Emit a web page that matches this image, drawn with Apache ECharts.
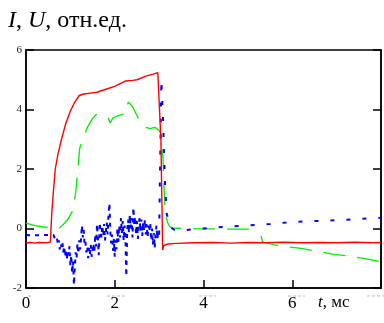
<!DOCTYPE html>
<html>
<head>
<meta charset="utf-8">
<script src="https://cdn.jsdelivr.net/npm/echarts@6/dist/echarts.min.js"></script>
<style>
  html, body { margin: 0; padding: 0; background: #fff; }
  #chart { width: 384px; height: 323px; }
</style>
</head>
<body>
<div id="chart"></div>
<script>
// axis ticks
var xTicks = [0, 2, 4, 6, 8]
var yTicks = [-2, 0, 2, 4, 6]

// current I, [t ms, value]
var currentI = [
  [0, -0.48], [0.1, -0.47], [0.2, -0.49], [0.3, -0.47], [0.4, -0.48], [0.5, -0.47], [0.55, -0.45],
  [0.58, 0.5], [0.62, 1.3], [0.66, 2.0], [0.72, 2.5], [0.8, 3.0], [0.9, 3.55], [1.0, 3.95],
  [1.1, 4.25], [1.2, 4.47], [1.3, 4.52], [1.45, 4.55], [1.6, 4.58], [1.8, 4.68], [2.0, 4.78],
  [2.1, 4.85], [2.25, 4.96], [2.4, 4.98], [2.5, 5.0], [2.7, 5.12], [2.85, 5.18], [2.97, 5.24],
  [3.01, 5.22], [3.04, 3.0], [3.08, -0.72], [3.1, -0.58], [3.2, -0.52], [3.4, -0.5],
  [3.8, -0.48], [4.2, -0.47], [4.6, -0.49], [5.0, -0.47], [5.4, -0.48], [5.8, -0.46],
  [6.2, -0.48], [6.6, -0.47], [7.0, -0.48], [7.4, -0.46], [7.8, -0.48], [8.0, -0.47]
]

// voltage U, [t ms, value]
var voltageU = [
  [0, 0.18], [0.2, 0.1], [0.4, 0.05], [0.5, 0.03], [0.6, 0.0], [0.73, -0.02], [0.85, 0.15],
  [0.95, 0.32], [1.05, 0.6], [1.12, 1.2], [1.17, 2.0], [1.21, 2.7], [1.3, 3.1], [1.4, 3.45],
  [1.5, 3.7], [1.58, 3.83], [1.7, 3.8], [1.85, 3.72], [1.9, 3.55], [1.95, 3.7], [2.05, 3.78],
  [2.2, 3.85], [2.28, 3.9], [2.3, 4.25], [2.4, 4.1], [2.5, 3.8], [2.6, 3.5], [2.7, 3.4],
  [2.8, 3.36], [2.9, 3.4], [3.0, 3.3], [3.05, 3.14], [3.09, 2.3], [3.1, 1.8], [3.12, 1.07],
  [3.14, 0.52], [3.19, 0.2], [3.24, 0.06], [3.3, 0.02], [3.5, 0.0], [4.0, -0.01], [4.5, -0.02],
  [5.1, -0.02], [5.2, null], [5.3, -0.25], [5.33, -0.45], [5.6, -0.55], [5.9, -0.62],
  [6.2, -0.67], [6.5, -0.75], [6.9, -0.86], [7.3, -0.93], [7.7, -1.03], [8.0, -1.12]
]

// probe signal, noisy part while the current flows, [t ms, value]
var probeNoise = [
  [0, -0.22], [0.2, -0.23], [0.4, -0.22], [0.62, -0.22], [0.64, -0.3], [0.66, -0.25], [0.68, -0.42],
  [0.70, -0.35], [0.72, -0.55], [0.74, -0.4], [0.76, -0.7], [0.78, -0.5], [0.80, -0.62],
  [0.82, -0.45], [0.84, -0.8], [0.86, -0.6], [0.88, -0.95], [0.90, -0.7], [0.92, -1.05],
  [0.94, -0.75], [0.96, -0.9], [0.98, -0.6], [1.00, -1.25], [1.02, -0.9], [1.04, -1.5],
  [1.06, -1.1], [1.08, -1.9], [1.10, -1.3], [1.12, -0.8], [1.14, -1.0], [1.16, -0.5],
  [1.18, -0.85], [1.20, -0.4], [1.22, -0.7], [1.24, -0.35], [1.26, 0.1], [1.28, -0.3],
  [1.30, -0.05], [1.32, -0.55], [1.34, -0.45], [1.36, -0.8], [1.38, -0.6], [1.40, -1.0],
  [1.42, -0.65], [1.44, -0.85], [1.46, -0.55], [1.48, -0.95], [1.50, -0.7], [1.52, -0.5],
  [1.54, -0.8], [1.56, -0.2], [1.58, -0.6], [1.60, 0.15], [1.62, -0.35], [1.64, -0.9],
  [1.66, 0.2], [1.68, -0.1], [1.70, -0.3], [1.72, 0.1], [1.74, -0.25], [1.76, 0.15],
  [1.78, -0.4], [1.80, -0.1], [1.82, 0.2], [1.84, -0.2], [1.86, 0.5], [1.88, 0.85],
  [1.90, -0.1], [1.92, -0.5], [1.94, -0.2], [1.96, -0.75], [1.98, -0.35], [2.00, -0.95],
  [2.02, -0.4], [2.04, -0.7], [2.06, 0.0], [2.08, -0.45], [2.10, 0.1], [2.12, -0.3],
  [2.14, 0.35], [2.16, -0.15], [2.18, 0.25], [2.20, -0.4], [2.22, 0.1], [2.24, -0.2],
  [2.26, -1.6], [2.28, -0.1], [2.30, 0.3], [2.32, -0.15], [2.34, 0.45], [2.36, 0.0],
  [2.38, 0.35], [2.40, -0.3], [2.42, 0.7], [2.44, 0.1], [2.46, 0.4], [2.48, -0.2],
  [2.50, 0.25], [2.52, -0.35], [2.54, 0.15], [2.56, 0.35], [2.58, -0.1], [2.60, 0.3],
  [2.62, -0.25], [2.64, 0.2], [2.66, -0.05], [2.68, 0.3], [2.70, -0.2], [2.72, 0.15],
  [2.74, -0.3], [2.76, 0.1], [2.78, -0.1], [2.80, 0.2], [2.82, -0.4], [2.84, 0.0],
  [2.86, -0.55], [2.88, -0.15], [2.90, -0.65], [2.92, -0.2], [2.94, 0.1], [2.96, -0.35],
  [2.98, -0.1], [3.00, -0.2]
]

// probe signal, spike and slow tail, [t ms, value]
var probeTail = [
  [3.00, -0.2], [3.05, 5.0], [3.09, 3.6], [3.13, 1.6], [3.17, 0.5], [3.25, 0.05],
  [3.35, -0.05], [3.6, -0.05], [4.0, 0.0], [4.5, 0.06], [5.0, 0.1], [5.5, 0.15], [6.0, 0.22],
  [6.5, 0.25], [7.0, 0.28], [7.5, 0.32], [8.0, 0.36]
]

var serif = 'Liberation Serif'
var chart = echarts.init(document.getElementById('chart'))

// light gray dash marks under the x axis
var grayMarks = [[28, 31], [107, 125], [199, 216], [288, 305], [367, 384]].map(function (r) {
  return {
    type: 'line',
    shape: { x1: r[0], y1: 296, x2: r[1], y2: 296 },
    style: { stroke: '#bbb', lineWidth: 1, lineDash: [3, 2] },
    silent: true
  }
})

chart.setOption({
  animation: false,
  title: {
    text: '{i|I}{n|, }{i|U}{n|, отн.ед.}',
    left: 3,
    top: 4,
    textStyle: {
      fontWeight: 'normal',
      rich: {
        i: { fontFamily: serif, fontSize: 24, fontStyle: 'italic', fontWeight: 'normal', color: '#000' },
        n: { fontFamily: serif, fontSize: 24, fontWeight: 'normal', color: '#000' }
      }
    }
  },
  grid: {
    left: 26, right: 1, top: 50, bottom: 35,
    show: true, borderColor: '#000', borderWidth: 1.5
  },
  xAxis: {
    type: 'value',
    min: xTicks[0],
    max: xTicks[xTicks.length - 1],
    interval: 2,
    axisLine: { onZero: false, lineStyle: { color: '#000', width: 1.5 } },
    axisTick: { inside: true, length: 8, lineStyle: { color: '#000', width: 1.5 } },
    axisLabel: {
      margin: 7,
      fontFamily: serif,
      fontSize: 17,
      color: '#000',
      formatter: function (v) { return v === 8 ? '' : String(v) }
    },
    splitLine: { show: false }
  },
  yAxis: [
    {
      type: 'value',
      min: yTicks[0],
      max: yTicks[yTicks.length - 1],
      interval: 2,
      axisLine: { show: true, onZero: false, lineStyle: { color: '#000', width: 1.5 } },
      axisTick: { show: true, inside: true, length: 8, lineStyle: { color: '#000', width: 1.5 } },
      axisLabel: { margin: 4, fontFamily: serif, fontSize: 11, color: '#222' },
      splitLine: { show: false }
    },
    {
      type: 'value',
      position: 'right',
      min: yTicks[0],
      max: yTicks[yTicks.length - 1],
      interval: 2,
      axisLine: { show: true, onZero: false, lineStyle: { color: '#000', width: 1.5 } },
      axisTick: { show: true, inside: true, length: 8, lineStyle: { color: '#000', width: 1.5 } },
      axisLabel: { show: false },
      splitLine: { show: false }
    }
  ],
  graphic: grayMarks.concat([
    {
      type: 'text',
      left: 318,
      top: 294,
      style: {
        text: '{i|t}{n|, мс}',
        rich: {
          i: { fontFamily: serif, fontSize: 17, fontStyle: 'italic', fill: '#000' },
          n: { fontFamily: serif, fontSize: 17, fill: '#000' }
        }
      }
    }
  ]),
  series: [
    {
      name: 'U',
      type: 'line',
      data: voltageU,
      showSymbol: false,
      connectNulls: false,
      lineStyle: { color: '#00ee00', width: 1.3, type: [22, 12] }
    },
    {
      name: 'probe',
      type: 'line',
      data: probeNoise,
      showSymbol: false,
      lineStyle: { color: '#0000ff', width: 2, type: [4, 5] }
    },
    {
      name: 'probe tail',
      type: 'line',
      data: probeTail,
      showSymbol: false,
      lineStyle: { color: '#0000ff', width: 2, type: [4, 12] }
    },
    {
      name: 'I',
      type: 'line',
      data: currentI,
      showSymbol: false,
      lineStyle: { color: '#ff0000', width: 1.4 }
    }
  ]
})
</script>
</body>
</html>
